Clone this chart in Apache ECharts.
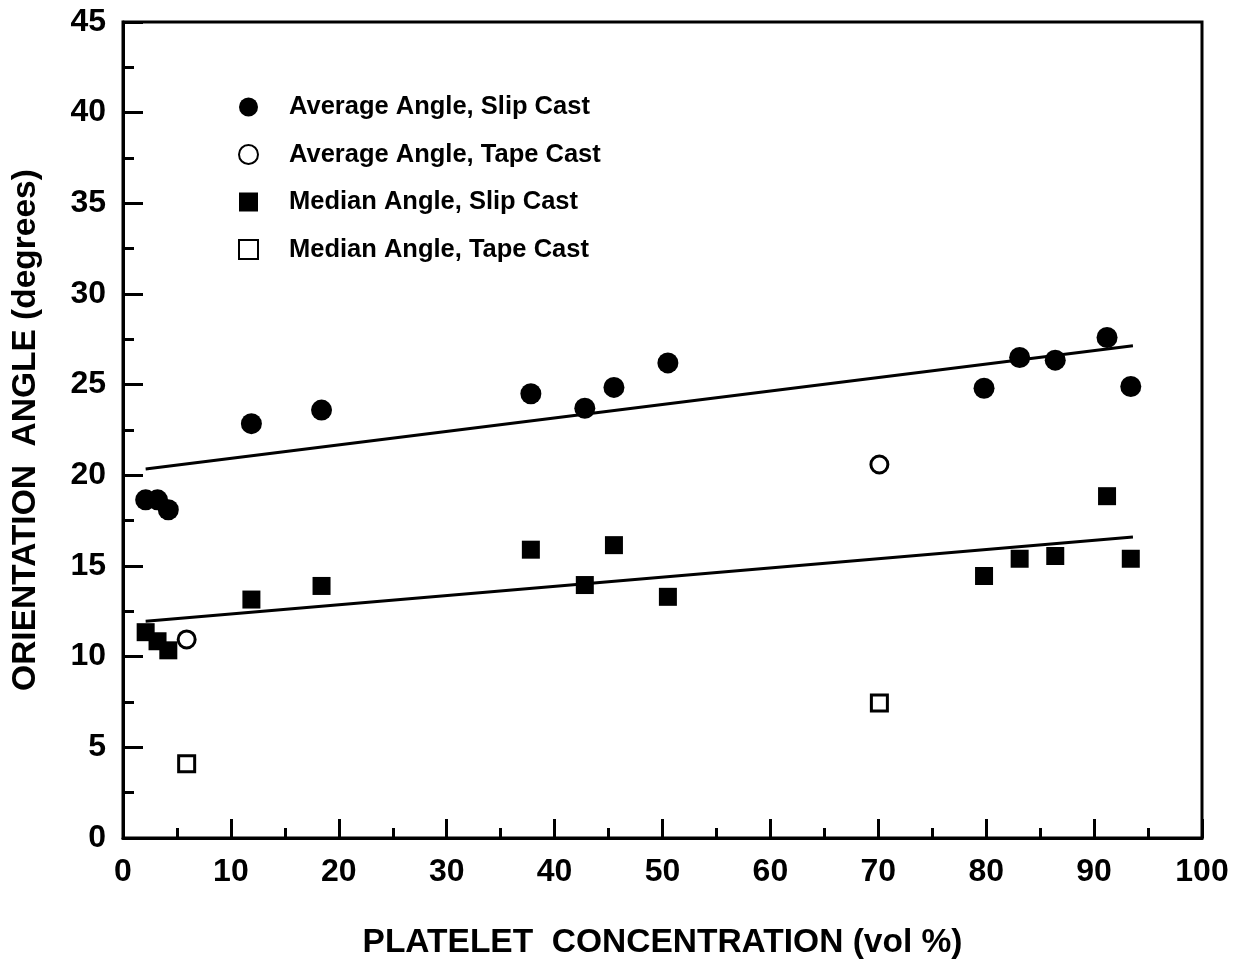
<!DOCTYPE html>
<html>
<head>
<meta charset="utf-8">
<script src="https://cdn.jsdelivr.net/npm/echarts@6/dist/echarts.min.js"></script>
<style>
html,body{margin:0;padding:0;background:#fff;}
#chart{width:1233px;height:964px;}
</style>
</head>
<body>
<div id="chart"></div>
<script>
// Slip cast samples (platelet concentration, vol %)
var slipX = [2.1, 3.2, 4.2, 11.9, 18.4, 37.8, 42.8, 45.5, 50.5, 79.8, 83.1, 86.4, 91.2, 93.4];
var avgSlipY = [18.65, 18.65, 18.1, 22.85, 23.6, 24.5, 23.7, 24.85, 26.2, 24.8, 26.5, 26.35, 27.6, 24.9];
var medSlipY = [11.35, 10.85, 10.35, 13.15, 13.9, 15.9, 13.95, 16.15, 13.3, 14.45, 15.4, 15.55, 18.85, 15.4];
// Tape cast samples
var tapeX = [5.9, 70.1];
var avgTapeY = [10.95, 20.6];
var medTapeY = [4.1, 7.45];
// Fit lines (end points)
var fitX = [2.1, 93.6];
var fitAvgY = [20.35, 27.15];
var fitMedY = [11.95, 16.6];

var names = ['Average Angle, Slip Cast', 'Average Angle, Tape Cast', 'Median Angle, Slip Cast', 'Median Angle, Tape Cast'];

function pairs(xs, ys) { return xs.map(function (x, i) { return [x, ys[i]]; }); }

var FONT = '"Liberation Sans", Arial, Helvetica, sans-serif';

var chart = echarts.init(document.getElementById('chart'), null, {renderer: 'canvas'});
chart.setOption({
  backgroundColor: '#fff',
  animation: false,
  grid: {
    left: 123, right: 31, top: 22, bottom: 126,
    show: true, borderColor: '#000', borderWidth: 3,
    containLabel: false, outerBoundsMode: 'none'
  },
  legend: {
    data: [
      {name: names[0], icon: 'circle'},
      {name: names[1], icon: 'circle'},
      {name: names[2], icon: 'rect'},
      {name: names[3], icon: 'rect'}
    ],
    orient: 'vertical',
    left: 233, top: 88,
    itemWidth: 19, itemHeight: 19,
    itemGap: 19.5,
    textStyle: {fontFamily: FONT, fontWeight: 'bold', fontSize: 25.5, color: '#000', lineHeight: 28, padding: [0, 0, 0, 26]},
    selectedMode: false
  },
  xAxis: {
    type: 'value', min: 0, max: 100, interval: 10,
    name: 'PLATELET  CONCENTRATION (vol %)',
    nameLocation: 'middle', nameGap: 88,
    nameTextStyle: {fontFamily: FONT, fontWeight: 'bold', fontSize: 33.5, color: '#000'},
    axisLine: {show: true, onZero: false, lineStyle: {color: '#000', width: 3}},
    axisTick: {show: true, inside: true, length: 19, lineStyle: {color: '#000', width: 3}},
    minorTick: {show: true, splitNumber: 2, length: 10, lineStyle: {color: '#000', width: 3}},
    axisLabel: {fontFamily: FONT, fontWeight: 'bold', fontSize: 32, color: '#000', margin: 18},
    splitLine: {show: false}
  },
  yAxis: {
    type: 'value', min: 0, max: 45, interval: 5,
    name: 'ORIENTATION  ANGLE (degrees)',
    nameLocation: 'middle', nameGap: 80,
    nameTextStyle: {fontFamily: FONT, fontWeight: 'bold', fontSize: 33.5, color: '#000'},
    axisLine: {show: true, onZero: false, lineStyle: {color: '#000', width: 3}},
    axisTick: {show: true, inside: true, length: 20, lineStyle: {color: '#000', width: 3}},
    minorTick: {show: true, splitNumber: 2, length: 11, lineStyle: {color: '#000', width: 3}},
    axisLabel: {fontFamily: FONT, fontWeight: 'bold', fontSize: 32, color: '#000', margin: 17},
    splitLine: {show: false}
  },
  series: [
    {
      type: 'line', data: pairs(fitX, fitAvgY), showSymbol: false, symbol: 'none',
      lineStyle: {color: '#000', width: 3}, z: 1, silent: true
    },
    {
      type: 'line', data: pairs(fitX, fitMedY), showSymbol: false, symbol: 'none',
      lineStyle: {color: '#000', width: 3}, z: 1, silent: true
    },
    {
      name: names[0], type: 'scatter', data: pairs(slipX, avgSlipY),
      symbol: 'circle', symbolSize: 21,
      itemStyle: {color: '#000', opacity: 1}, z: 3
    },
    {
      name: names[1], type: 'scatter', data: pairs(tapeX, avgTapeY),
      symbol: 'circle', symbolSize: 17,
      itemStyle: {color: '#fff', borderColor: '#000', borderWidth: 3, opacity: 1}, z: 3
    },
    {
      name: names[2], type: 'scatter', data: pairs(slipX, medSlipY),
      symbol: 'rect', symbolSize: 18,
      itemStyle: {color: '#000', opacity: 1}, z: 3
    },
    {
      name: names[3], type: 'scatter', data: pairs(tapeX, medTapeY),
      symbol: 'rect', symbolSize: 16,
      itemStyle: {color: '#fff', borderColor: '#000', borderWidth: 3, opacity: 1}, z: 3
    }
  ]
});
</script>
</body>
</html>
